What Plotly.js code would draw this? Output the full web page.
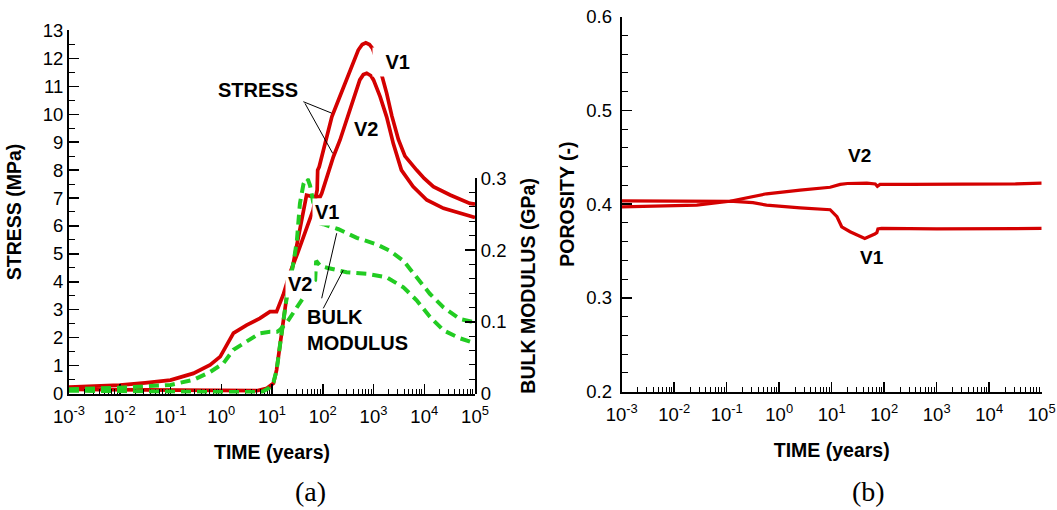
<!DOCTYPE html>
<html>
<head>
<meta charset="utf-8">
<script src="https://cdn.plot.ly/plotly-3.0.1.min.js"></script>
<style>
  html, body { margin: 0; padding: 0; background: #ffffff; }
  #chart { width: 1057px; height: 510px; }
</style>
</head>
<body>
<div id="chart"></div>
<script>
// ---------------- data ----------------
// (a) stress, V1 (upper peak)
const stressV1Time = [0.001, 0.00316, 0.01, 0.0316, 0.1, 0.282, 0.603, 0.955, 1.29, 1.74, 3.16, 5.75, 9.12, 12.3, 16.6, 22.4, 31.6, 41.7, 56.2, 64.6, 77.6, 79.4, 85.1, 95.5, 120, 151, 204, 275, 372, 501, 600, 706, 830, 955, 1096, 1479, 1820, 2291, 3090, 4169, 7079, 10000, 15136, 32359, 79433, 100000];
const stressV1 = [0.23, 0.26, 0.30, 0.38, 0.48, 0.72, 1.02, 1.32, 1.74, 2.16, 2.45, 2.69, 2.93, 2.93, 3.53, 4.30, 5.00, 5.60, 6.33, 6.57, 7.29, 8.00, 8.12, 8.48, 9.20, 9.91, 10.51, 11.11, 11.70, 12.30, 12.50, 12.56, 12.50, 12.36, 12.06, 11.35, 10.75, 9.95, 9.10, 8.50, 8.00, 7.70, 7.41, 7.11, 6.81, 6.78];

// (a) stress, V2 (lower peak)
const stressV2Time = [0.001, 0.01, 0.1, 1, 5.01, 7.94, 10.7, 12.3, 14.8, 19.5, 24.0, 30.9, 41.7, 47.9, 63.1, 89.1, 95.5, 120, 162, 219, 295, 398, 537, 631, 735, 891, 1000, 1349, 1820, 2455, 3548, 6026, 11220, 23988, 50119, 100000];
const stressV2 = [0.15, 0.14, 0.12, 0.10, 0.10, 0.19, 0.37, 0.84, 1.92, 3.47, 4.30, 5.38, 6.57, 7.10, 7.05, 7.05, 7.17, 7.77, 8.48, 9.08, 9.80, 10.51, 11.23, 11.42, 11.47, 11.38, 11.23, 10.63, 9.90, 8.95, 8.00, 7.41, 6.93, 6.63, 6.45, 6.30];

// (a) bulk modulus, V1 (upper, with early spike)
const bulkV1Time = [0.001, 0.01, 0.1, 1, 6.31, 8.91, 10.7, 12.3, 14.8, 19.5, 26.9, 30.9, 35.5, 41.7, 46.8, 51.3, 56.2, 64.6, 75.9, 89.1, 102, 204, 468, 1148, 2089, 3890, 7079, 12882, 23988, 50119, 100000];
const bulkV1 = [0.004, 0.003, 0.002, 0.002, 0.002, 0.008, 0.016, 0.032, 0.074, 0.134, 0.185, 0.213, 0.265, 0.292, 0.300, 0.298, 0.290, 0.270, 0.241, 0.237, 0.236, 0.229, 0.217, 0.208, 0.199, 0.185, 0.162, 0.139, 0.120, 0.104, 0.099];

// (a) bulk modulus, V2 (lower)
const bulkV2Time = [0.001, 0.01, 0.1, 0.282, 0.603, 1.10, 1.74, 3.16, 5.75, 9.12, 12.6, 14.5, 20.0, 30.9, 47.9, 56.2, 70.8, 74.1, 89.1, 126, 295, 741, 1820, 3890, 7079, 12882, 23988, 50119, 100000];
const bulkV2 = [0.006, 0.008, 0.012, 0.019, 0.030, 0.042, 0.061, 0.072, 0.084, 0.086, 0.086, 0.089, 0.100, 0.120, 0.140, 0.148, 0.158, 0.185, 0.178, 0.175, 0.169, 0.167, 0.162, 0.148, 0.130, 0.107, 0.088, 0.077, 0.070];

// (b) porosity
const porV1Time = [0.001, 0.0316, 0.135, 0.316, 0.575, 2.51, 9.33, 12.6, 15.5, 22.4, 42.7, 66.1, 72.4, 75.9, 89.1, 1000, 100000];
const porV1 = [0.4035, 0.4030, 0.4030, 0.4015, 0.3990, 0.3960, 0.3940, 0.3865, 0.3758, 0.3705, 0.3634, 0.3680, 0.3695, 0.3735, 0.3740, 0.3735, 0.3740];
const porV2Time = [0.001, 0.01, 0.0269, 0.115, 0.251, 0.575, 2.51, 9.33, 14.5, 20.0, 46.8, 67.6, 74.1, 83.2, 316, 3715, 31623, 100000];
const porV2 = [0.3970, 0.3980, 0.3990, 0.4030, 0.4070, 0.4110, 0.4150, 0.4180, 0.4210, 0.4220, 0.4223, 0.4215, 0.4190, 0.4210, 0.4210, 0.4210, 0.4215, 0.4223];

// tick labels
const timeTickVals = [0.001, 0.01, 0.1, 1, 10, 100, 1000, 10000, 100000];
const timeTickText = ['10<sup>-3</sup>', '10<sup>-2</sup>', '10<sup>-1</sup>', '10<sup>0</sup>', '10<sup>1</sup>', '10<sup>2</sup>', '10<sup>3</sup>', '10<sup>4</sup>', '10<sup>5</sup>'];

// ---------------- styling ----------------
const RED = '#d40000';
const GREEN = '#22cc22';
const FONT = 'Liberation Sans, Arial, Helvetica, sans-serif';
const TICKFONT = {family: FONT, size: 18.5, color: '#000'};
const TITLEFONT = {family: FONT, size: 19.5, color: '#000'};

// minor tick positions for the log axes (2..9 in every decade)
const minorLog = [];
for (let e = -3; e < 5; e++) {
  for (let m = 2; m <= 9; m++) minorLog.push(m * Math.pow(10, e));
}

function timeAxis(domain, anchor) {
  return {
    type: 'log', domain: domain, anchor: anchor,
    range: [-3, 5],
    tickmode: 'array', tickvals: timeTickVals, ticktext: timeTickText,
    ticks: 'inside', ticklen: 10, tickwidth: 1.5, tickcolor: '#000',
    minor: {tickmode: 'array', tickvals: minorLog, ticks: 'inside', ticklen: 5, tickwidth: 1, tickcolor: '#000', showgrid: false},
    showline: true, linecolor: '#000', linewidth: 2,
    showgrid: false, zeroline: false, mirror: false,
    tickfont: TICKFONT, ticklabelstandoff: 5,
    title: {text: '<b>TIME (years)</b>', font: TITLEFONT, standoff: 20}
  };
}

const traces = [
  {x: stressV1Time, y: stressV1, xaxis: 'x', yaxis: 'y', mode: 'lines', name: 'Stress V1',
   line: {color: RED, width: 3.7}},
  {x: stressV2Time, y: stressV2, xaxis: 'x', yaxis: 'y', mode: 'lines', name: 'Stress V2',
   line: {color: RED, width: 3.7}},
  {x: bulkV1Time, y: bulkV1, xaxis: 'x', yaxis: 'y2', mode: 'lines', name: 'Bulk modulus V1',
   line: {color: GREEN, width: 4, dash: '10px,6px'}},
  {x: bulkV2Time, y: bulkV2, xaxis: 'x', yaxis: 'y2', mode: 'lines', name: 'Bulk modulus V2',
   line: {color: GREEN, width: 4, dash: '10px,6px'}},
  {x: porV1Time, y: porV1, xaxis: 'x3', yaxis: 'y3', mode: 'lines', name: 'Porosity V1',
   line: {color: RED, width: 3.2}},
  {x: porV2Time, y: porV2, xaxis: 'x3', yaxis: 'y3', mode: 'lines', name: 'Porosity V2',
   line: {color: RED, width: 3.2}}
];

const labelFont = {family: FONT, size: 20, color: '#000'};
function lbl(x, y, text, xref, yref, extra) {
  return Object.assign({x: x, y: y, xref: xref, yref: yref, text: '<b>' + text + '</b>', showarrow: false,
    font: labelFont, bgcolor: 'rgba(0,0,0,0)'}, extra || {});
}

const annotations = [
  lbl(0.725, 10.87, 'STRESS', 'x', 'y'),
  lbl(3.38, 11.87, 'V1', 'x', 'y', {bgcolor: '#fff', borderpad: 3, width: 34, align: 'right'}),
  lbl(2.852, 9.46, 'V2', 'x', 'y'),
  lbl(2.078, 6.51, 'V1', 'x', 'y', {bgcolor: '#fff', borderpad: 2}),
  lbl(1.552, 3.92, 'V2', 'x', 'y', {bgcolor: '#fff', borderpad: 2}),
  lbl(1.650, 2.27, 'BULK<br>MODULUS', 'x', 'y', {xanchor: 'left', align: 'left'}),
  lbl(1.539, 0.4523, 'V2', 'x3', 'y3', {font: {family: FONT, size: 19, color: '#000'}}),
  lbl(1.768, 0.3434, 'V1', 'x3', 'y3', {font: {family: FONT, size: 19, color: '#000'}}),
  {x: 0.2933, y: 0.0353, xref: 'paper', yref: 'paper', xanchor: 'center', yanchor: 'middle',
   text: '(a)', showarrow: false,
   font: {family: 'Liberation Serif, Times New Roman, serif', size: 28, color: '#000'}},
  {x: 0.8212, y: 0.0353, xref: 'paper', yref: 'paper', xanchor: 'center', yanchor: 'middle',
   text: '(b)', showarrow: false,
   font: {family: 'Liberation Serif, Times New Roman, serif', size: 28, color: '#000'}}
];

function leader(lx0, s0, lx1, s1) {
  return {type: 'line', xref: 'x', yref: 'y', x0: Math.pow(10, lx0), y0: s0, x1: Math.pow(10, lx1), y1: s1,
    line: {color: '#000', width: 1}};
}
const shapes = [
  leader(1.617, 10.45, 2.176, 10.04),
  leader(1.650, 10.39, 2.196, 8.60),
  leader(1.979, 3.41, 2.275, 5.74),
  leader(2.011, 3.05, 2.405, 4.42)
];

const layout = {
  width: 1057, height: 510,
  margin: {l: 0, r: 0, t: 0, b: 0},
  paper_bgcolor: '#fff', plot_bgcolor: 'rgba(0,0,0,0)',
  showlegend: false,
  font: {family: FONT, color: '#000'},
  xaxis: timeAxis([0.06528, 0.44939], 'y'),
  yaxis: {
    domain: [0.22843, 0.94020], anchor: 'x', range: [0, 13],
    tickmode: 'linear', tick0: 0, dtick: 1,
    ticks: 'inside', ticklen: 10, tickwidth: 1.5, tickcolor: '#000',
    minor: {dtick: 0.5, ticks: 'inside', ticklen: 6, tickwidth: 1, tickcolor: '#000', showgrid: false},
    showline: true, linecolor: '#000', linewidth: 2, showgrid: false, zeroline: false,
    tickfont: TICKFONT,
    title: {text: '<b>STRESS (MPa)</b>', font: TITLEFONT, standoff: 16}
  },
  yaxis2: {
    domain: [0.22843, 0.65039], anchor: 'x', side: 'right', range: [0, 0.3],
    tickmode: 'linear', tick0: 0, dtick: 0.1,
    ticks: 'inside', ticklen: 10, tickwidth: 1.5, tickcolor: '#000',
    minor: {dtick: 0.02, ticks: 'inside', ticklen: 6, tickwidth: 1, tickcolor: '#000', showgrid: false},
    showline: true, linecolor: '#000', linewidth: 2, showgrid: false, zeroline: false,
    tickfont: TICKFONT,
    title: {text: '<b>BULK MODULUS (GPa)</b>', font: TITLEFONT, standoff: 16}
  },
  xaxis3: timeAxis([0.58817, 0.98553], 'y3'),
  yaxis3: {
    domain: [0.23235, 0.96725], anchor: 'x3', range: [0.2, 0.6],
    tickmode: 'linear', tick0: 0.2, dtick: 0.1,
    ticks: 'inside', ticklen: 10, tickwidth: 1.5, tickcolor: '#000',
    minor: {dtick: 0.02, ticks: 'inside', ticklen: 6, tickwidth: 1, tickcolor: '#000', showgrid: false},
    showline: true, linecolor: '#000', linewidth: 2, showgrid: false, zeroline: false,
    tickfont: TICKFONT, ticklabelstandoff: 4,
    title: {text: '<b>POROSITY (-)</b>', font: TITLEFONT, standoff: 6}
  },
  annotations: annotations,
  shapes: shapes
};

Plotly.newPlot('chart', traces, layout, {staticPlot: true, displayModeBar: false});
</script>
</body>
</html>
